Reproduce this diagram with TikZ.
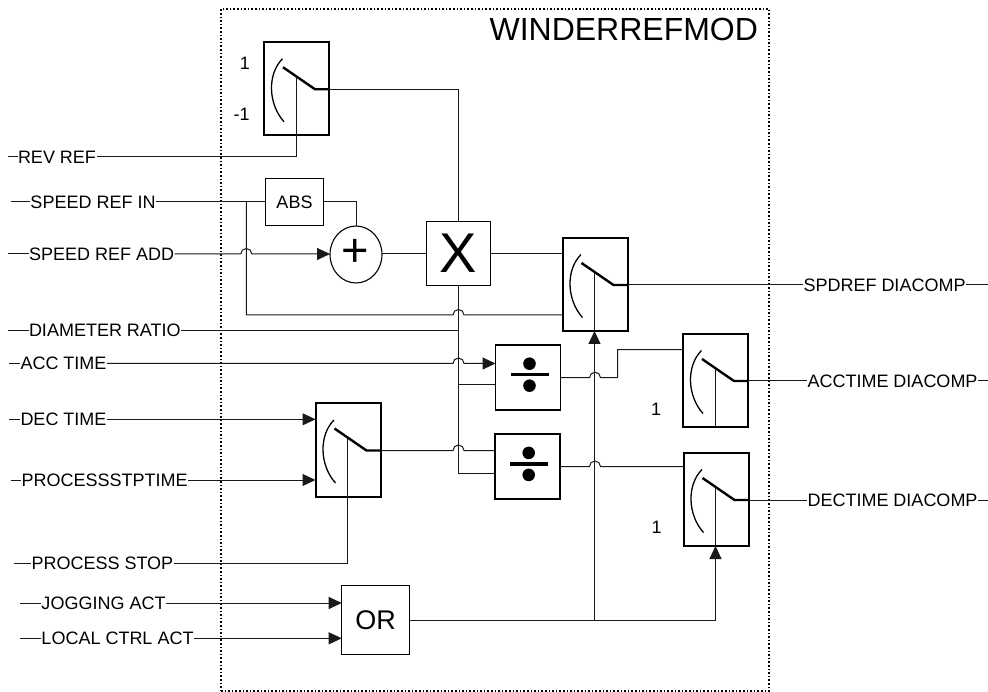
\documentclass[tikz,border=0pt]{standalone}
\usepackage{fontspec}
\setmainfont{Liberation Sans}
\usetikzlibrary{arrows.meta,shapes.geometric}
\newcommand{\hopover}[2]{-- (#1-5.5,#2) arc[start angle=180,end angle=0,radius=5.5pt]}
\begin{document}
\begin{tikzpicture}[x=1pt, y=-1pt, line cap=butt, line join=miter]
\tikzset{
    wire/.style={draw=black!90, line width=1pt},
    arrowwire/.style={wire, -{Triangle[length=13pt,width=12pt]}},
    sigtext/.style={font=\fontsize{18}{20}\selectfont, inner sep=0pt, outer sep=0.5pt, text=black},
    frame/.style={draw, line width=1.3pt, dash pattern=on 1.6pt off 2pt, minimum width=548pt, minimum height=682pt, inner sep=0pt},
    switchbox/.style={draw, line width=2pt, minimum width=65pt, minimum height=93pt, inner sep=0pt, outer sep=0pt},
    divbox/.style={draw, line width=1.7pt, minimum width=65pt, minimum height=65pt, inner sep=0pt, outer sep=0pt},
    plainbox/.style={draw, line width=1.1pt, inner sep=0pt, outer sep=0pt},
    pics/lever/.style={code={
        \draw[line width=1.3pt] (18.5,16.5) .. controls (3,32) and (4.2,62) .. (20,79.5);
        \draw[line width=2.4pt] (19,25) -- (51,47) -- (65,47);
        \coordinate (-pivot) at (32,34);
        \coordinate (-out) at (65,47);
    }},
    pics/divsign/.style={code={
        \fill (0,-11) circle[radius=6.3pt];
        \fill (0,11) circle[radius=6.3pt];
        \fill (-19,-1.8) rectangle (19,1.8);
    }}
}
\useasboundingbox (0,0) rectangle (988,692);

% module frame
\node[frame] (winder) at (495,350) {};
\node[sigtext, font=\fontsize{32}{34}\selectfont, anchor=east] (title) at (758.5,29) {WINDERREFMOD};

% blocks
\foreach \nm/\cx/\cy in {sw1/296.5/88.75, sw2/595/284.5, sw3/715.5/380.5, sw4/716/499.5, sw5/348/450}{
    \node[switchbox] (\nm) at (\cx,\cy) {};
    \pic (\nm) at (\nm.north west) {lever};
}
\node[divbox] (div1) at (528,377.7) {};
\node[divbox] (div2) at (527.5,466.5) {};
\pic at (529.5,374.7) {divsign};
\pic at (528.7,463.9) {divsign};
\node[plainbox, minimum width=58.4pt, minimum height=47.4pt, font=\fontsize{18}{20}\selectfont] (absb) at (294.5,202) {ABS};
\node[plainbox, ellipse, minimum width=52pt, minimum height=57pt] (addsum) at (356,254.5) {};
\node[inner sep=0pt, font=\fontsize{47}{49}\selectfont] (plus) at (355.7,253) {+};
\node[plainbox, minimum width=64.4pt, minimum height=64.4pt, font=\fontsize{56}{58}\selectfont] (mulx) at (458.5,253.5) {X};
\node[plainbox, line width=1.4pt, minimum width=67.6pt, minimum height=68.6pt, font=\fontsize{27}{29}\selectfont] (orb) at (375.5,620) {OR};

% gains
\node[sigtext] (gainp) at (245,63) {1};
\node[sigtext] (gainn) at (241.7,114.3) {-1};
\node[sigtext] (gainacc) at (656,409) {1};
\node[sigtext] (gaindec) at (656.7,527.3) {1};

% inputs
\foreach \nm/\lx/\tx/\y/\txt in {
    revref/8/17.5/157/REV REF,
    speedin/11/30/202/SPEED REF IN,
    speedadd/8/28.5/254/SPEED REF ADD,
    diam/8/28.5/330.7/DIAMETER RATIO,
    acctime/9/20/363.5/ACC TIME,
    dectime/9/20/419.3/DEC TIME,
    stptime/10.5/21/480/PROCESSSTPTIME,
    stopin/13.5/31/563.3/PROCESS STOP,
    jogact/20/41/603/JOGGING ACT,
    localact/20/41/638.3/LOCAL CTRL ACT}{
    \coordinate (\nm-lead) at (\lx,\y);
    \node[sigtext, anchor=west] (\nm) at (\tx,\y) {\txt};
    \draw[wire] (\nm-lead) -- (\nm);
}

% outputs
\foreach \nm/\tx/\y/\txt in {
    spdref/803/285/SPDREF DIACOMP,
    accout/807/381/ACCTIME DIACOMP,
    decout/807/500/DECTIME DIACOMP}{
    \coordinate (\nm-tail) at (988,\y);
    \node[sigtext, anchor=west] (\nm) at (\tx,\y) {\txt};
    \draw[wire] (\nm) -- (\nm-tail);
}
\draw[wire] (sw2-out) -- (spdref);
\draw[wire] (sw3-out) -- (accout);
\draw[wire] (sw4-out) -- (decout);

% switch controls
\draw[wire] (sw1-pivot) -- (sw1-pivot |- revref.east) -- (revref);
\draw[wire] (sw2-pivot) -- (sw2-pivot |- sw2.south);
\draw[wire] (sw3-pivot) -- (sw3-pivot |- sw3.south);
\draw[wire] (sw4-pivot) -- (sw4-pivot |- sw4.south);
\draw[wire] (sw5-pivot) -- (sw5-pivot |- stopin.east) -- (stopin);

% speed path
\coordinate (inbranch) at (246.3,202);
\draw[wire] (speedin) -- (absb);
\draw[wire] (absb.east) -- (addsum.north |- absb.east) -- (addsum.north);
\draw[arrowwire] (speedadd) \hopover{246.3}{254} -- (addsum.west |- speedadd.east);
\draw[wire] (addsum.east |- mulx.west) -- (mulx.west);
\draw[wire] (sw1-out) -- (mulx.north |- sw1-out) -- (mulx.north);
\draw[wire] (mulx.east) -- (sw2.west |- mulx.east);
\draw[wire] (inbranch) -- (246.3,315) \hopover{458.5}{315} -- (sw2.west |- 0,315);

% ratio trunk
\coordinate (trunkend) at (458.5,473);
\draw[wire] (mulx.south) -- (trunkend) -- (div2.west |- trunkend);
\draw[wire] (diam) -- (mulx.south |- diam.east);
\draw[wire] (mulx.south |- 0,384.3) -- (div1.west |- 0,384.3);
\draw[arrowwire] (acctime) \hopover{458.5}{363.5} -- (div1.west |- acctime.east);
\draw[arrowwire] (dectime) -- (sw5.west |- dectime.east);
\draw[arrowwire] (stptime) -- (sw5.west |- stptime.east);
\draw[wire] (sw5-out) \hopover{458.5}{450.5} -- (div2.west |- sw5-out);

% divider outputs
\draw[wire] (div1.east) \hopover{595}{377.7} -- (617.7,377.7) -- (617.7,349.7) -- (sw3.west |- 0,349.7);
\draw[wire] (div2.east) \hopover{595}{466.5} -- (sw4.west |- div2.east);

% enable
\draw[arrowwire] (jogact) -- (orb.west |- jogact.east);
\draw[arrowwire] (localact) -- (orb.west |- localact.east);
\draw[wire] (orb.east) -- (sw4-pivot |- orb.east);
\draw[arrowwire] (sw4-pivot |- orb.east) -- (sw4-pivot |- sw4.south);
\draw[arrowwire] (sw2-pivot |- orb.east) -- (sw2-pivot |- sw2.south);
\end{tikzpicture}
\end{document}
